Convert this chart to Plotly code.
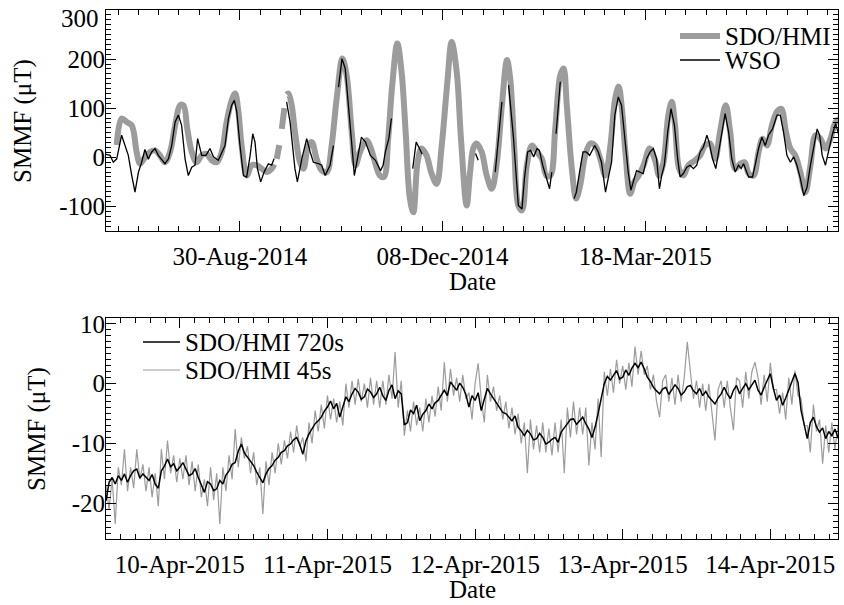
import plotly.graph_objects as go
import pandas as pd
import numpy as np

FONT = "Liberation Serif"
GRAY = "#9c9c9c"

# ---------------- Top panel data (days since 2014-06-25) ----------------
top_start = "2014-06-25"
hmi_day = [5.3, 7.7, 10.2, 12.7, 15.1, 16.8, 19.2, 21.7, 24.2, 26.6, 29.1, 31.6, 34.1, 36.5, 38.2, 40.1,
           42.3, 44.7, 47.2, 49.7, 52.1, 54.6, 57.1, 59.5, 62.0, 63.7, 65.3, 66.9, 69.4, 71.9, 74.3, 76.8,
           79.3, 81.7, 83.0, 83.6, 84.2, 85.5, 86.1, 86.7, 88.0, 88.5, 89.1, 90.0, 91.6, 93.2, 95.7, 97.4,
           99.8, 101.5, 103.9, 106.4, 108.9, 111.3, 113.8, 116.6, 118.7, 121.2, 123.1, 125.3, 128.6, 130.7,
           132.7, 135.1, 137.1, 139.2, 141.2, 143.7, 145.8, 147.8, 149.9, 151.6, 153.7, 155.7, 158.1, 160.6,
           163.1, 165.6, 168.4, 170.5, 173.0, 175.1, 177.9, 179.6, 181.3, 182.8, 185.3, 187.8, 190.3, 192.8,
           195.3, 197.8, 199.4, 201.4, 203.4, 205.2, 207.6, 210.1, 212.6, 215.0, 217.2, 219.2, 221.6, 224.1,
           225.7, 227.3, 229.8, 231.9, 233.9, 236.4, 238.9, 241.3, 243.8, 246.3, 248.8, 251.2, 252.9, 254.5,
           256.2, 258.6, 260.6, 262.8, 265.2, 268.2, 271.0, 272.8, 275.0, 277.4, 279.1, 280.7, 282.7, 284.8,
           287.3, 290.6, 293.1, 295.5, 298.0, 300.5, 302.9, 305.7, 307.9, 310.3, 312.8, 315.0, 317.0, 319.4,
           321.9, 323.9, 326.0, 328.5, 331.0, 333.1, 335.4, 337.6, 340.0, 342.5, 345.0, 347.5, 350.0, 352.4,
           354.9, 357.4, 359.9, 362.0]
hmi_val = [25, 79, 72, 65, 11, -13, 0, 11, 14, 4, -10, 11, 65, 106, 106, 58,
           11, -10, 4, 7, -6, -10, 11, 72, 116, 130, 93, 24, -37, -16, -16, -23,
           -30, -23, -14, None, -3, 25, None, 58, 100, None, 128, 130, 106, 52, -10, -23,
           24, 31, -3, -27, -30, 24, 120, 201, 167, 52, -16, 11, 35, 18,
           -10, -37, -40, 38, 147, 232, 174, 52, -84, -112, -10, 18, 4, -33,
           -54, 24, 154, 235, 174, 38, -98, -30, 20, 28, 11, -37, -64, -10,
           106, 198, 160, 18, -98, -108, -16, 24, 11, -3, -37, -37, 58, 167,
           181, 106, -23, -84, -57, 4, 28, 24, -3, -37, 24, 120, 144, 99,
           11, -74, -50, -37, -16, 18, -8, -37, -10, 86, 113, 65, -23, -37,
           -16, -6, 4, 24, 28, -3, 52, 106, 52, -23, -13, -10, -33, -37,
           11, 38, 24, 65, 93, 99, 52, 18, 4, -30, -71, -16, 45, 38,
           18, 38, 72, 79]

wso_day = [0.0, 2.0, 3.6, 5.3, 7.7, 9.4, 11.0, 12.7, 14.3, 16.0, 17.6, 19.2, 20.9, 22.5, 24.2, 25.8,
           27.5, 29.1, 30.8, 32.4, 34.1, 35.7, 37.3, 39.0, 40.6, 42.3, 43.9, 45.2, 47.2, 49.3, 51.3, 53.0,
           55.4, 57.1, 58.7, 60.4, 62.0, 63.3, 64.5, 66.1, 67.8, 69.4, 71.1, 72.4, 73.5, 74.7, 76.3, 78.0,
           80.1, 81.7, 82.9, 86.0,
           89.1, 90.8, 93.2, 94.4, 96.6, 99.0, 100.7, 102.3, 104.8, 106.4, 108.1, 110.5, 112.2, 113.5,
           114.7, 116.4, 118.0, 119.7, 121.3, 122.5, 123.8, 126.0, 128.0, 130.4, 132.9, 135.4, 136.7, 137.8,
           139.5, 140.8, 146.0,
           151.3, 153.0, 154.3, 155.9, 170.0,
           182.3, 183.6, 188.0,
           192.0, 195.3, 197.0,
           198.6, 201.0, 203.4, 205.2, 206.4, 208.0, 209.4, 211.0, 212.6, 213.8, 215.4, 217.1, 218.8, 219.9, 221.0,
           222.0, 224.1, 227.0,
           230.9, 232.0, 233.6, 235.3, 236.9, 238.6, 241.1, 242.8, 244.4, 246.4, 248.0, 249.4, 251.0, 252.7,
           254.3, 256.0, 257.6, 258.9, 260.6, 261.7, 263.4, 265.0, 266.7, 268.4, 270.0, 271.6, 273.0, 274.1,
           275.4, 277.1, 278.7, 280.4, 282.0, 283.2, 284.8, 286.5, 288.1, 289.8, 291.4, 293.1, 294.7, 296.4,
           297.5, 299.2, 300.8, 302.4, 304.1, 305.4, 307.1, 308.7, 310.4, 312.0, 313.3, 314.5, 317.0, 318.9,
           320.2, 321.9, 323.5, 325.2, 326.8, 328.8, 331.0, 332.6, 334.2, 335.9, 337.6, 339.2, 340.8, 342.5,
           344.2, 345.8, 347.5, 349.1, 350.8, 352.0, 353.3, 354.9, 356.6, 358.2, 359.9, 361.5, 363.2]
wso_val = [6, 4, -10, -3, 45, 24, 4, -37, -71, -30, -10, 16, -4, 11, 18, 4,
           -6, -13, -3, 24, 72, 86, 65, -3, -37, -20, -16, 38, 4, 4, 18, 1,
           -6, 11, 24, 79, 106, 116, 93, 24, -37, -40, 4, 48, 31, -23, -50, -30,
           -13, -16, -3, None,
           113, 72, -23, -50, -3, 38, 11, -10, -13, -16, -37, -16, 24, None,
           143, 201, 181, 106, 24, -37, -10, 41, 31, 4, -6, -27, -16, 11,
           38, 79, None,
           -23, 31, 21, 7, None,
           8, -6, None,
           -30, 113, None,
           147, 40, -98, -105, -43, 11, 14, 1, 18, 14, -16, -43, -64, -30, None,
           48, 154, None,
           -84, -71, -30, 11, 11, 4, 24, 11, -10, -71, -37, -10, 86, 123,
           106, 38, -30, -67, -43, -27, -30, -33, -3, 11, 18, -3, -64, -37,
           -16, 52, 99, 65, -3, -40, -33, -20, -16, -23, -16, 11, 21, 45,
           31, -3, -23, 18, 65, 89, 52, -3, -30, -16, -23, -13, -40, -40,
           -16, 18, 41, 24, 45, 58, 86, 86, 52, 4, -10, 1, -16, -43,
           -78, -61, -16, 24, 58, 45, 4, -16, 18, 45, 69, 45, 28]

# ---------------- Bottom panel data (half-hourly from 2015-04-09 12:00) ----------------
bot_start = "2015-04-09 12:00"
hmi720_val = [-19.6, -16.5, -15.7, -16.8, -15.4, -16.2, -15.1, -16.5, -15.4, -14.6,
              -14.3, -15.8, -15.1, -15.6, -16.2, -15.2, -16.8, -17.5, -14.6, -13.8,
              -12.6, -13.9, -13.4, -14.6, -14.0, -13.2, -14.3, -15.4, -15.1, -14.2,
              -15.7, -16.9, -18.2, -16.4, -16.8, -17.9, -17.6, -16.2, -16.8, -15.3,
              -14.6, -13.5, -13.2, -11.3, -10.1, -11.6, -12.3, -12.9, -13.7, -14.8,
              -15.7, -16.6, -15.1, -14.2, -13.7, -12.8, -12.3, -11.5, -11.2, -10.4,
              -10.1, -9.4, -9.0, -10.2, -11.8, -9.6, -8.4, -7.6, -6.7, -6.2,
              -5.6, -4.6, -3.9, -2.9, -4.2, -3.3, -5.6, -3.9, -2.2, -3.0,
              -1.7, -0.8, -1.4, -2.6, -2.2, -0.9, -1.4, -2.3, -1.7, -0.6,
              -2.0, -2.8, -1.1, -0.2, -2.5, -1.2, -1.7, -6.9, -6.5, -4.4,
              -5.0, -3.6, -6.2, -5.1, -4.5, -3.4, -4.2, -3.2, -2.8, -1.9,
              -1.1, -2.0, 0.3, -0.4, -1.1, 0.1, -0.6, -1.8, -3.9, -2.0,
              -2.8, -1.5, -4.5, -2.6, -0.8, -1.7, -2.5, -3.3, -3.9, -4.8,
              -5.0, -5.7, -6.2, -5.4, -7.3, -7.9, -8.7, -7.8, -8.4, -9.4,
              -9.2, -8.3, -9.0, -10.1, -9.8, -9.3, -9.0, -9.8, -8.1, -7.4,
              -6.7, -6.0, -5.9, -6.8, -6.2, -5.6, -6.7, -7.6, -9.0, -7.3,
              -5.0, -2.5, 0.0, 1.2, 0.6, 1.4, 2.2, 0.8, 1.1, 2.3,
              1.4, 2.6, 3.4, 2.7, 3.6, 2.5, 1.1, 0.4, -0.6, -1.2,
              -1.7, -0.9, -0.6, -1.8, -1.1, -0.2, -0.8, -1.9, -1.4, -0.5,
              -0.3, -1.2, -1.7, -0.8, -2.0, -1.3, -2.2, -2.9, -3.4, -2.4,
              -1.7, -0.6, -1.7, -2.5, -1.1, -0.3, -1.7, -0.8, 0.0, -1.0,
              -0.3, 0.6, -1.1, -1.9, -0.6, 0.5, 1.7, -0.8, -2.8, -1.9,
              -3.6, -2.4, -1.1, 0.4, 1.7, 0.2, -4.5, -6.8, -9.2, -6.5,
              -5.6, -7.2, -8.1, -7.4, -9.2, -8.0, -8.7, -7.6, -9.0, -8.5]
hmi45_val = [-17, -21, -16, -23.5, -14, -17, -11, -18, -14, -17.5,
             -11, -16, -13.5, -18, -14, -19, -15, -20.5, -11, -16,
             -9.5, -15, -12, -16.5, -12.5, -16, -12, -17, -13, -18,
             -13.5, -19, -16, -20.5, -14, -19.5, -15, -23.5, -14, -18,
             -12, -16, -7.6, -14, -9, -12.5, -10.5, -15, -11.5, -17,
             -14, -21.8, -13, -17, -11.5, -15, -10, -13.5, -9.5, -12.5,
             -8, -11.5, -7, -10.5, -9, -13, -6.5, -10, -4.5, -8,
             -3.5, -7.5, -2, -6, -2.5, -6.5, -3, -7, 0, -4,
             0.5, -3.5, 0.8, -3, 0, -4, 1, -3.5, 0.5, -4,
             0.5, -3.5, 1.5, -2.5, 5.3, -4, 0.5, -8.7, -4.5, -8,
             -3, -7, -4, -8, -2.5, -6.5, -2, -5.5, -0.5, -4.5,
             3.6, -3, 2.5, -2, 1, -3, 1.5, -2.5, -1.5, -6,
             0, 3.4, -2.5, -6.5, 1.5, -3, -0.5, -4.5, -2, -6,
             -3, -7.5, -4, -8.5, -5, -10, -6.5, -15, -6, -11,
             -7, -11.5, -6.5, -11.5, -7.5, -12, -6.5, -11.5, -6, -15,
             -4, -9, -3, -8.5, -4, -8.5, -4, -13.7, -6.5, -11,
             -2.5, -12.3, 2, -2, 2.5, -1.5, 4, 0, 3, -1,
             3.5, -0.5, 6.2, 1.5, 5.5, 1.5, 3, -1, 1.5, -3,
             -5.6, 0.5, 1.5, -3, 1, -3.5, 1.5, -3, 1, 7.0,
             2, -2.5, 0.5, -4, 0, -4.5, 0, -4.5, -9.5, -1,
             0.5, -4, 0.5, -4, -7.8, 1, 0.5, -4, 2, -2.5,
             2, 3.6, 1, -3.5, 1.5, -3, 3.5, -1, -1, -5,
             -1.5, -6, 1, -3.5, 2.2, -2, -2.5, -7, -7, -11.5,
             -3.5, -8, -6, -13.4, -7, -11.5, -6.5, -11, -7, -10]

top_yticks = [-100, 0, 100, 200, 300]
top_yticktext = ["-100", "0", "100", "200", "300"]
bot_yticks = [-20, -10, 0, 10]
bot_yticktext = ["-20", "-10", "0", "10"]

hmi_t = pd.Timestamp(top_start) + pd.to_timedelta(hmi_day, unit="D")
wso_t = pd.Timestamp(top_start) + pd.to_timedelta(wso_day, unit="D")
t720 = pd.Timestamp(bot_start) + pd.to_timedelta(np.arange(len(hmi720_val)) * 0.5, unit="h")
t45 = pd.Timestamp(bot_start) + pd.to_timedelta(np.arange(len(hmi45_val)) * 0.5, unit="h")

fig = go.Figure()
fig.add_trace(go.Scatter(x=hmi_t, y=hmi_val, mode="lines", name="SDO/HMI",
                         line=dict(color=GRAY, width=6, shape="spline", smoothing=1.0),
                         connectgaps=False, xaxis="x", yaxis="y"))
fig.add_trace(go.Scatter(x=wso_t, y=wso_val, mode="lines", name="WSO",
                         line=dict(color="black", width=1.3), connectgaps=False,
                         xaxis="x", yaxis="y"))
fig.add_trace(go.Scatter(x=t45, y=hmi45_val, mode="lines", name="SDO/HMI 45s",
                         line=dict(color=GRAY, width=1.2), xaxis="x2", yaxis="y2"))
fig.add_trace(go.Scatter(x=t720, y=hmi720_val, mode="lines", name="SDO/HMI 720s",
                         line=dict(color="black", width=1.5), xaxis="x2", yaxis="y2"))

tickfont = dict(family=FONT, size=25, color="black")
base = dict(showline=True, linecolor="black", linewidth=1, mirror="allticks",
            ticks="inside", ticklen=10, tickwidth=1, tickcolor="black",
            showgrid=False, zeroline=False, tickfont=tickfont, automargin=False)
xbase = dict(base, ticklabelstandoff=3)
ybase = dict(base, ticklabelstandoff=-5)


def px_x(p):
    return (p - 106) / 732


def px_y(p):
    return (539 - p) / 529


# legend drawn as short sample lines plus labels
legend_items = [
    ("SDO/HMI", GRAY, 6, 680, 720, 36),
    ("WSO", "black", 1.3, 680, 720, 60),
    ("SDO/HMI 720s", "black", 1.5, 143, 180, 342),
    ("SDO/HMI 45s", GRAY, 1.2, 143, 180, 370),
]
shapes = []
annotations = []
for label, col, w, xa, xb, yy in legend_items:
    shapes.append(dict(type="line", xref="paper", yref="paper",
                       x0=px_x(xa), x1=px_x(xb), y0=px_y(yy), y1=px_y(yy),
                       line=dict(color=col, width=w)))
    annotations.append(dict(text=label, xref="paper", yref="paper",
                            x=px_x(xb + 3), y=px_y(yy), xanchor="left", yanchor="middle",
                            showarrow=False, font=dict(family=FONT, size=25, color="black")))

annotations += [
    # top tick label of the upper panel, nudged inside the page as in the original
    dict(text=top_yticktext[-1], xref="paper", yref="paper", x=px_x(101), y=px_y(18),
         xanchor="right", yanchor="middle", showarrow=False,
         font=dict(family=FONT, size=25, color="black")),
    dict(text="SMMF (μT)", textangle=-90, xref="paper", yref="paper",
         x=px_x(23), y=px_y(121), showarrow=False,
         font=dict(family=FONT, size=25), xanchor="center", yanchor="middle"),
    dict(text="SMMF (μT)", textangle=-90, xref="paper", yref="paper",
         x=px_x(37), y=px_y(429), showarrow=False,
         font=dict(family=FONT, size=25), xanchor="center", yanchor="middle"),
    dict(text="Date", xref="paper", yref="paper", x=0.5, y=px_y(281),
         showarrow=False, font=dict(family=FONT, size=25),
         xanchor="center", yanchor="middle"),
    dict(text="Date", xref="paper", yref="paper", x=0.5, y=px_y(589),
         showarrow=False, font=dict(family=FONT, size=25),
         xanchor="center", yanchor="middle"),
]

fig.update_layout(
    width=844, height=605,
    margin=dict(l=106, r=6, t=10, b=66),
    paper_bgcolor="white", plot_bgcolor="white",
    font=dict(family=FONT, size=25, color="black"),
    showlegend=False,
    xaxis=dict(xbase, domain=[0, 1], anchor="y", type="date",
               range=["2014-06-25", "2015-06-21 02:00"],
               tick0="2014-08-30", dtick=100 * 86400000, tickformat="%d-%b-%Y",
               minor=dict(ticks="inside", ticklen=5, tickcolor="black",
                          tick0="2014-08-30", dtick=10 * 86400000, showgrid=False)),
    yaxis=dict(ybase, domain=[0.5822, 1], anchor="x", range=[-150, 300],
               tickmode="array", tickvals=top_yticks[:-1], ticktext=top_yticktext[:-1],
               minor=dict(ticks="inside", ticklen=5, tickcolor="black",
                          tick0=0, dtick=10, showgrid=False)),
    xaxis2=dict(xbase, domain=[0, 1], anchor="y2", type="date",
                range=["2015-04-09 12:00", "2015-04-14 11:00"],
                tick0="2015-04-10", dtick=86400000, tickformat="%d-%b-%Y",
                minor=dict(ticks="inside", ticklen=5, tickcolor="black",
                           tick0="2015-04-10", dtick=8640000, showgrid=False)),
    yaxis2=dict(ybase, domain=[0, 0.4178], anchor="x2", range=[-26, 11],
                tickmode="array", tickvals=bot_yticks, ticktext=bot_yticktext,
                minor=dict(ticks="inside", ticklen=5, tickcolor="black",
                           tick0=0, dtick=1, showgrid=False)),
    shapes=shapes,
    annotations=annotations,
)

fig.write_html("out.html", config={"displayModeBar": False},
               post_script="document.body.style.margin='0px';")
